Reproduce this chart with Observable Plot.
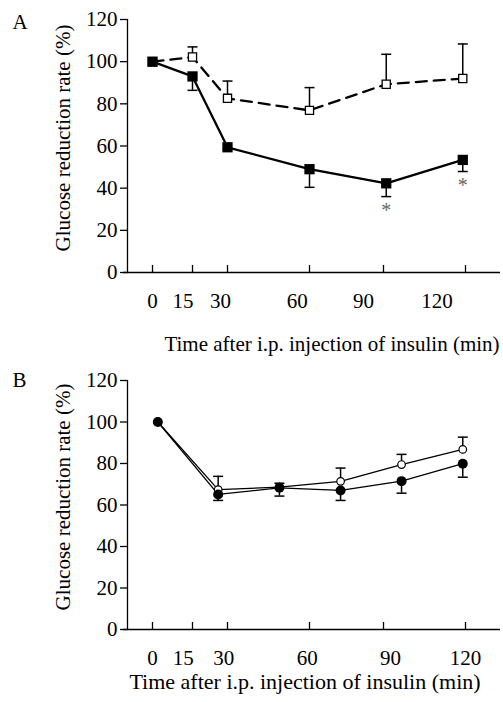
<!DOCTYPE html>
<html><head><meta charset="utf-8">
<script src="https://cdn.jsdelivr.net/npm/d3@7"></script>
<script src="https://cdn.jsdelivr.net/npm/@observablehq/plot@0.6"></script>
<style>
body{margin:0;background:#fff;}
#chart svg{display:block;}
</style></head><body><div id="chart"></div>
<script>
// ---- shared axis values ----
const xTicks = [0, 15, 30, 60, 90, 120];
const xTickLabels = ["0", "15", "30", "60", "90", "120"];
const yTicks = [0, 20, 40, 60, 80, 100, 120];
const yLabel = "Glucose reduction rate (%)";
const xLabel = "Time after i.p. injection of insulin (min)";
// where each tick label is printed along the time axis (min)
const labelAtA = [0, 11.4, 27, 55.5, 81.9, 109.6];
const labelAtB = [0, 11.5, 28.4, 59.2, 92.6, 120];

// ---- Panel A (squares) ----
const timeA     = [0, 15, 30, 60, 91, 119];
const filledA   = [100, 93, 59.4, 49, 42.3, 53.4];
const filledALo = [100, 86.4, 58.5, 40.4, 36, 47.9];
const openA     = [100, 102.2, 82.6, 76.9, 89.3, 92];
const openAHi   = [100, 107, 90.8, 87.7, 103.5, 108.4];
const signifA   = ["", "", "", "", "*", "*"];

// ---- Panel B (circles) ----
const timeB     = [2, 26, 49, 72.6, 96.6, 119];
const filledB   = [100, 65.1, 68.3, 67.0, 71.5, 79.9];
const filledBLo = [100, 62.2, 64.3, 62.2, 65.7, 73.4];
const openB     = [100, 67.4, 68.6, 71.4, 79.5, 86.8];
const openBHi   = [100, 73.8, 70.5, 77.8, 84.4, 92.7];

const A = timeA.map((t, i) => ({t, filled: filledA[i], lo: filledALo[i], open: openA[i], hi: openAHi[i], mark: signifA[i]}));
const B = timeB.map((t, i) => ({t, filled: filledB[i], lo: filledBLo[i], open: openB[i], hi: openBHi[i]}));
const labelsA = xTickLabels.map((label, i) => ({label, at: labelAtA[i]}));
const labelsB = xTickLabels.map((label, i) => ({label, at: labelAtB[i]}));

const cap = {draw(ctx, size) { const w = Math.sqrt(size / Math.PI); ctx.moveTo(-w, 0); ctx.lineTo(w, 0); }};
const font = "'Liberation Serif', 'Times New Roman', Times, serif";
const xRange = [152, 192, 227, 309, 383, 465];

function panel({letter, data, labels, height, marginTop, marginBottom, tickDy, titleDy, titleDx, titleSize, letterDy, squares}) {
  const lw = squares ? 2.3 : 1.3;
  const marks = [
    Plot.frame({anchor: "left", stroke: "#000", strokeWidth: 1.3}),
    Plot.ruleY([0], {insetLeft: -4, stroke: "#000", strokeWidth: 1.3}),
    Plot.axisY({ticks: yTicks, tickSize: 7, tickPadding: 3, fontSize: 21, fontFamily: font, label: null, strokeWidth: 1.3}),
    Plot.axisX({ticks: xTicks, tickSize: -7, fill: "none", label: null, strokeWidth: 1.3}),
    Plot.text(labels, {x: "at", text: "label", frameAnchor: "bottom", dy: tickDy, lineAnchor: "top", fontSize: 21}),
    Plot.text([letter], {frameAnchor: "top-left", dx: -115, dy: letterDy, textAnchor: "start", lineAnchor: "top", fontSize: 21}),
    Plot.text([yLabel], {frameAnchor: "left", rotate: -90, dx: -64, dy: -8, textAnchor: "middle", lineAnchor: "middle", fontSize: 21}),
    Plot.text([xLabel], {frameAnchor: "bottom", dx: titleDx, dy: titleDy, textAnchor: "middle", lineAnchor: "top", fontSize: titleSize}),
    Plot.line(data, {x: "t", y: "open", stroke: "#000", strokeWidth: lw, strokeDasharray: squares ? "11,7" : null}),
    Plot.line(data, {x: "t", y: "filled", stroke: "#000", strokeWidth: lw}),
    Plot.ruleX(data.filter(d => d.hi > d.open), {x: "t", y1: "open", y2: "hi", stroke: "#000", strokeWidth: 1.5}),
    Plot.dot(data.filter(d => d.hi > d.open), {x: "t", y: "hi", symbol: cap, r: 5, stroke: "#000", strokeWidth: 1.5, fill: "none"}),
    Plot.ruleX(data.filter(d => d.lo < d.filled), {x: "t", y1: "filled", y2: "lo", stroke: "#000", strokeWidth: 1.5}),
    Plot.dot(data.filter(d => d.lo < d.filled), {x: "t", y: "lo", symbol: cap, r: 5, stroke: "#000", strokeWidth: 1.5, fill: "none"})
  ];
  if (squares) {
    marks.push(
      Plot.dot(data, {x: "t", y: "open", symbol: "square", r: 4.6, fill: "#fff", stroke: "#000", strokeWidth: 1.3}),
      Plot.dot(data, {x: "t", y: "filled", symbol: "square", r: 5.8, fill: "#000", stroke: "none"}),
      Plot.text(data.filter(d => d.mark), {x: "t", y: "lo", text: "mark", dy: 6, lineAnchor: "top", fontSize: 20, fill: "#666"})
    );
  } else {
    marks.push(
      Plot.dot(data, {x: "t", y: "open", symbol: "circle", r: 3.8, fill: "#fff", stroke: "#000", strokeWidth: 1.2}),
      Plot.dot(data, {x: "t", y: "filled", symbol: "circle", r: 5, fill: "#000", stroke: "none"})
    );
  }
  return Plot.plot({
    width: 503, height, marginTop, marginBottom, marginLeft: 127, marginRight: 3,
    style: {fontFamily: font, fontSize: "21px", color: "#000", background: "#fff"},
    x: {type: "linear", domain: xTicks, range: xRange},
    y: {domain: [0, 120]},
    marks
  });
}

const chart = document.getElementById("chart");
chart.append(panel({letter: "A", data: A, labels: labelsA, height: 358, marginTop: 19, marginBottom: 86, tickDy: 21, titleDy: 64, titleDx: 18, titleSize: 21, letterDy: -5, squares: true}));
chart.append(panel({letter: "B", data: B, labels: labelsB, height: 344, marginTop: 22, marginBottom: 73, tickDy: 21, titleDy: 44, titleDx: -9, titleSize: 22, letterDy: -8, squares: false}));
</script></body></html>
